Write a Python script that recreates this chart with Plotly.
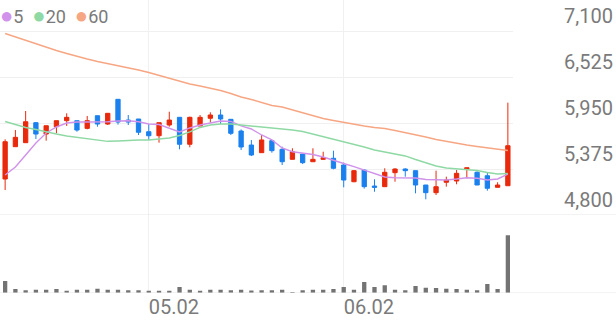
import plotly.graph_objects as go
from plotly.subplots import make_subplots

dates = [
    "2025-04-11", "2025-04-14", "2025-04-15", "2025-04-16", "2025-04-17", "2025-04-18",
    "2025-04-21", "2025-04-22", "2025-04-23", "2025-04-24", "2025-04-25", "2025-04-28",
    "2025-04-29", "2025-04-30", "2025-05-02", "2025-05-07", "2025-05-08", "2025-05-09",
    "2025-05-12", "2025-05-13", "2025-05-14", "2025-05-15", "2025-05-16", "2025-05-19",
    "2025-05-20", "2025-05-21", "2025-05-22", "2025-05-23", "2025-05-26", "2025-05-27",
    "2025-05-28", "2025-05-29", "2025-05-30", "2025-06-02", "2025-06-04", "2025-06-05",
    "2025-06-09", "2025-06-10", "2025-06-11", "2025-06-12", "2025-06-13", "2025-06-16",
    "2025-06-17", "2025-06-18", "2025-06-19", "2025-06-20", "2025-06-23", "2025-06-24",
    "2025-06-25", "2025-06-26",
]

open_ = [5250, 5654, 5704, 5954, 5812, 5904, 5979, 5979, 5883, 6041,
         5937, 6246, 5987, 6000, 5841, 5791, 5925, 6021, 5684, 5912,
         6009, 6050, 5996, 5850, 5675, 5579, 5729, 5621, 5496, 5562,
         5466, 5496, 5509, 5425, 5216, 5362, 5162, 5154, 5329, 5375,
         5354, 5175, 5079, 5209, 5225, 5371, 5334, 5291, 5146, 5166]
high = [5746, 5862, 6100, 5960, 5916, 5979, 6071, 5979, 6038, 6041,
        6075, 6246, 6050, 6000, 5937, 5954, 6091, 6021, 6029, 6050,
        6084, 6121, 6000, 5870, 5737, 5800, 5737, 5654, 5634, 5562,
        5634, 5591, 5604, 5454, 5362, 5370, 5246, 5384, 5384, 5384,
        5354, 5175, 5354, 5279, 5362, 5391, 5346, 5329, 5209, 6204]
low = [5112, 5654, 5704, 5750, 5729, 5821, 5913, 5841, 5871, 5904,
       5925, 5930, 5925, 5800, 5737, 5704, 5904, 5621, 5646, 5912,
       5954, 5937, 5800, 5612, 5537, 5579, 5579, 5425, 5496, 5437,
       5466, 5487, 5371, 5146, 5210, 5130, 5091, 5154, 5216, 5279,
       5071, 4996, 5050, 5154, 5184, 5259, 5175, 5104, 5146, 5166]
close = [5716, 5771, 5966, 5812, 5916, 5979, 6021, 5862, 5979, 5937,
         6071, 5962, 5962, 5834, 5791, 5954, 5987, 5684, 6021, 6021,
         6050, 6000, 5821, 5650, 5550, 5738, 5604, 5466, 5591, 5454,
         5496, 5516, 5384, 5237, 5354, 5154, 5146, 5334, 5375, 5354,
         5175, 5079, 5154, 5237, 5321, 5391, 5175, 5134, 5175, 5666]

ma5 = [5300, 5400, 5550, 5700, 5825, 5900, 5950, 5963, 5963, 5963,
       5966, 5975, 5979, 5966, 5938, 5931, 5888, 5838, 5888, 5925,
       5950, 5975, 5969, 5913, 5875, 5800, 5738, 5638, 5591, 5571,
       5556, 5525, 5488, 5444, 5404, 5363, 5325, 5275, 5266, 5266,
       5263, 5244, 5238, 5238, 5250, 5266, 5259, 5238, 5250, 5310]
ma20 = [5969, 5931, 5894, 5869, 5838, 5813, 5788, 5769, 5750, 5731,
        5721, 5725, 5734, 5738, 5738, 5750, 5763, 5794, 5838, 5894,
        5925, 5938, 5938, 5925, 5913, 5903, 5891, 5881, 5863, 5844,
        5813, 5781, 5750, 5719, 5688, 5650, 5613, 5588, 5563, 5538,
        5494, 5450, 5413, 5388, 5375, 5369, 5356, 5331, 5313, 5319]
ma60 = [7069, 7025, 6981, 6938, 6900, 6856, 6819, 6781, 6750, 6719,
        6694, 6669, 6644, 6613, 6581, 6544, 6506, 6469, 6438, 6413,
        6388, 6356, 6319, 6275, 6244, 6206, 6169, 6150, 6113, 6075,
        6038, 6006, 5981, 5956, 5938, 5913, 5894, 5881, 5856, 5831,
        5806, 5775, 5744, 5719, 5700, 5675, 5656, 5638, 5619, 5606]

volume = [240, 80, 55, 65, 65, 80, 45, 65, 65, 85,
          65, 65, 55, 55, 45, 45, 45, 120, 65, 45,
          65, 65, 55, 65, 50, 55, 55, 65, 20, 55,
          65, 65, 80, 120, 65, 220, 120, 155, 65, 55,
          140, 105, 100, 85, 80, 65, 55, 180, 80, 1155]

price_ticks = [4800, 5375, 5950, 6525, 7100]
price_tick_text = ["4,800", "5,375", "5,950", "6,525", "7,100"]
date_ticks = ["2025-05-02", "2025-06-02"]
date_tick_text = ["05.02", "06.02"]

ma_names = ["5", "20", "60"]
ma_colors = ["#d092ea", "#8fd9a4", "#f7a683"]
RED = "#e8290c"
BLUE = "#1a80ee"
GRID = "#f0f0f0"
TXT = "#7a7a7a"
FONT = "Roboto"

fig = make_subplots(rows=2, cols=1, shared_xaxes=True, vertical_spacing=0,
                    row_heights=[215, 78])

fig.add_trace(go.Candlestick(
    x=dates, open=open_, high=high, low=low, close=close,
    increasing=dict(line=dict(color=RED, width=1), fillcolor=RED),
    decreasing=dict(line=dict(color=BLUE, width=1), fillcolor=BLUE),
    whiskerwidth=0, showlegend=False, hoverinfo="skip"), row=1, col=1)

for name, vals, col in zip(ma_names, [ma5, ma20, ma60], ma_colors):
    fig.add_trace(go.Scatter(x=dates, y=vals, mode="lines", name=name,
                             line=dict(color=col, width=1.4),
                             showlegend=False, hoverinfo="skip"), row=1, col=1)

fig.add_trace(go.Bar(x=dates, y=volume, marker=dict(color="#737373", line=dict(width=0)),
                     showlegend=False, hoverinfo="skip"), row=2, col=1)

fig.update_layout(
    width=616, height=321,
    margin=dict(l=0, r=103, t=0, b=28),
    paper_bgcolor="white", plot_bgcolor="white",
    boxgap=0.4, bargap=0.58,
    font=dict(family=FONT, color=TXT),
    xaxis=dict(type="category", range=[-0.5, len(dates) - 0.5], rangeslider=dict(visible=False),
               tickvals=date_ticks, ticktext=date_tick_text, showticklabels=False,
               showgrid=True, gridcolor=GRID, gridwidth=1, ticks="", showline=False,
               zeroline=False),
    xaxis2=dict(type="category", range=[-0.5, len(dates) - 0.5],
                tickvals=date_ticks, ticktext=date_tick_text, showticklabels=True,
                ticklabelposition="outside right",
                tickfont=dict(family=FONT, size=20, color=TXT),
                showgrid=True, gridcolor=GRID, gridwidth=1, ticks="", showline=False,
                zeroline=False),
    yaxis=dict(side="right", range=[4800, 7487.5], tickvals=price_ticks, ticktext=price_tick_text,
               tickfont=dict(family=FONT, size=20, color=TXT),
               ticklabelposition="outside", ticklabelstandoff=50, ticklabelshift=-15,
               showgrid=True, gridcolor=GRID, gridwidth=1, ticks="", showline=False,
               zeroline=False, fixedrange=True),
    yaxis2=dict(side="right", range=[0, 1560], showticklabels=False, showgrid=False,
                ticks="", showline=False, zeroline=False),
)

# panel divider and bottom base line (full width)
fig.add_shape(type="line", xref="paper", yref="y", x0=0, x1=616 / 513, y0=4800, y1=4800,
              line=dict(color="#e6e6e6", width=1))
fig.add_shape(type="line", xref="paper", yref="y2", x0=0, x1=616 / 513, y0=0, y1=0,
              line=dict(color="#e6e6e6", width=1))

legend_html = "  ".join(
    f"<span style='color:{c};font-size:22px'>●</span><span style='color:{TXT}'>{n}</span>"
    for n, c in zip(ma_names, ma_colors))
fig.add_annotation(xref="paper", yref="paper", x=0, y=1, xanchor="left", yanchor="top",
                   text=legend_html, showarrow=False, xshift=-2, yshift=-1,
                   font=dict(family=FONT, size=18, color=TXT))

fig.write_html("out.html")
